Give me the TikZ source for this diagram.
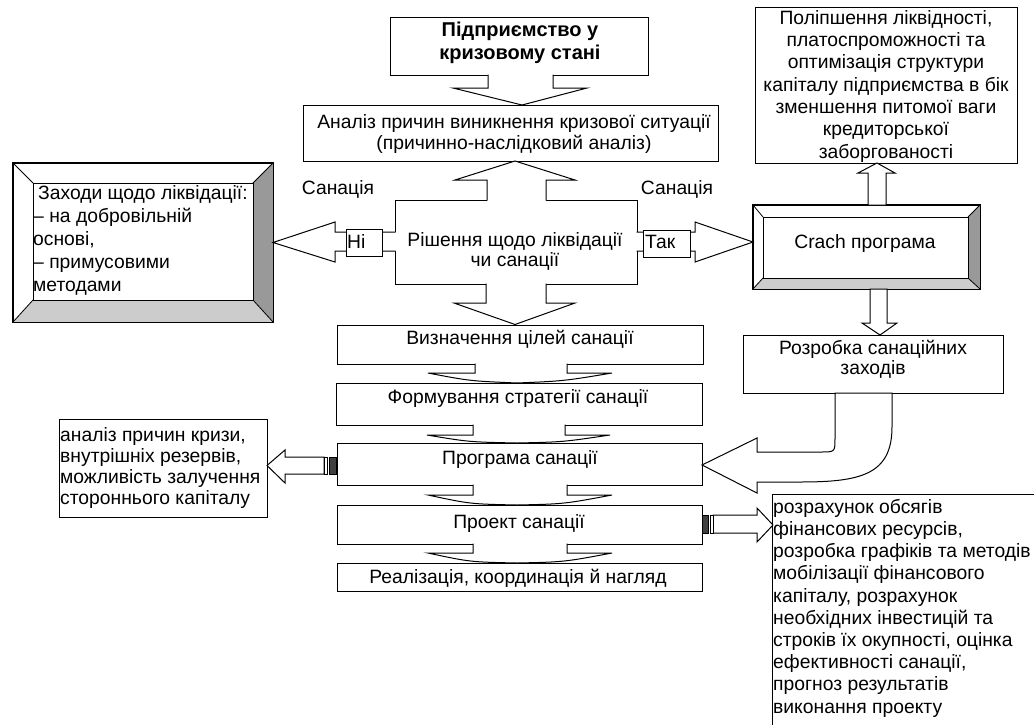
\documentclass[tikz,border=0pt]{standalone}
\usepackage{fontspec}
\setmainfont{Liberation Sans}
\newcommand\myfs[1]{\fontsize{19.3}{#1}\selectfont}
\begin{document}
\begin{tikzpicture}[x=1pt,y=-1pt,
  box/.style={draw, line width=1pt, fill=white, inner sep=0pt},
  ar/.style={line width=1pt, line join=miter},
  mt/.style={inner sep=0pt, anchor=north, align=center},
  ml/.style={inner sep=0pt, anchor=north west, align=left},
  st/.style={inner sep=0pt, anchor=base, font=\myfs{22}},
  sl/.style={inner sep=0pt, anchor=base west, font=\myfs{22}},
  bandR/.style={fill=black!40},
  bandB/.style={fill=black!20},
  bev/.style={line width=0.8pt},
]
\useasboundingbox (0,0) rectangle (1034,724);
\fill[white] (0,0) rectangle (1034,724);

% ---------- boxes ----------
\node[box,minimum width=258,minimum height=58] (crisis) at (519,46) {};
\node[box,minimum width=415,minimum height=56] (cause) at (510.5,133) {};
\node[box,minimum width=242,minimum height=84] (decide) at (516,242) {};
\node[box,minimum width=366,minimum height=39] (goals) at (520,344.5) {};
\node[box,minimum width=366,minimum height=42] (strat) at (519,404) {};
\node[box,minimum width=365,minimum height=42] (prog) at (519.5,464) {};
\node[box,minimum width=365,minimum height=39] (proj) at (519.5,524.5) {};
\node[box,minimum width=365,minimum height=28] (impl) at (519.5,577) {};
\node[box,minimum width=262,minimum height=156] (improve) at (886,85) {};
\node[box,minimum width=260,minimum height=58] (measures) at (873,364) {};
\node[box,minimum width=208,minimum height=98] (analysis) at (163,468) {};
\node[box,minimum width=273,minimum height=241] (calc) at (908.5,614.5) {};
\node[box,minimum width=260,minimum height=159] (liq) at (143,242.5) {};
\node[box,minimum width=227,minimum height=84] (crash) at (866.5,247) {};

% ---------- bevel decoration ----------
\fill[bandR] (273,163)--(273,322)--(253,300)--(253,183)--cycle;
\fill[bandB] (13,322)--(273,322)--(253,300)--(33,300)--cycle;
\draw[line width=1pt] (liq.north west) rectangle (liq.south east);
\draw[bev] (33,183) rectangle (253,300);
\draw[bev] (13,163)--(33,183) (273,163)--(253,183) (13,322)--(33,300) (273,322)--(253,300);

\fill[bandR] (980,205)--(980,289)--(968,278)--(968,217)--cycle;
\fill[bandB] (753,289)--(980,289)--(968,278)--(763,278)--cycle;
\draw[line width=1pt] (crash.north west) rectangle (crash.south east);
\draw[bev] (763,217) rectangle (968,278);
\draw[bev] (753,205)--(763,217) (980,205)--(968,217) (753,289)--(763,278) (980,289)--(968,278);

% ---------- block arrows of the main chain ----------
% crisis -> cause
\fill[white] (488,73)--(488,88)--(453,88)--(522,105)--(587,88)--(553,88)--(553,73)--cycle;
\draw[ar] (488,74.5)--(488,88)--(453,88)--(522,105)--(587,88)--(553,88)--(553,74.5);
% decide -> cause (up)
\fill[white] (487,202)--(487,180)--(455,180)--(515,161)--(575,180)--(546,180)--(546,202)--cycle;
\draw[ar] (487,200.5)--(487,180)--(455,180)--(515,161)--(575,180)--(546,180)--(546,200.5);
% decide -> goals
\fill[white] (486,282)--(486,303)--(454,303)--(515,324.5)--(575,303)--(546,303)--(546,282)--cycle;
\draw[ar] (486,283.5)--(486,303)--(454,303)--(515,324.5)--(575,303)--(546,303)--(546,283.5);
% goals -> strat
\fill[white] (475,362)--(475,373)--(428,373) .. controls (470,381) .. (517,383) .. controls (564,381) .. (612,373)--(567,373)--(567,362)--cycle;
\draw[ar] (475,363.5)--(475,373)--(428,373) .. controls (470,381) .. (517,383) .. controls (564,381) .. (612,373)--(567,373)--(567,363.5);
% strat -> prog
\fill[white] (473,423)--(473,435)--(427,435) .. controls (469,442) .. (517,443) .. controls (563,442) .. (610,435)--(565,435)--(565,423)--cycle;
\draw[ar] (473,424.5)--(473,435)--(427,435) .. controls (469,442) .. (517,443) .. controls (563,442) .. (610,435)--(565,435)--(565,424.5);
% prog -> proj
\fill[white] (473,483)--(473,495)--(428,495) .. controls (470,504) .. (517,505) .. controls (564,504) .. (612,495)--(567,495)--(567,483)--cycle;
\draw[ar] (473,484.5)--(473,495)--(428,495) .. controls (470,504) .. (517,505) .. controls (564,504) .. (612,495)--(567,495)--(567,484.5);
% proj -> impl
\fill[white] (473,542)--(473,553)--(428,553) .. controls (470,562) .. (517,563) .. controls (564,562) .. (612,553)--(567,553)--(567,542)--cycle;
\draw[ar] (473,543.5)--(473,553)--(428,553) .. controls (470,562) .. (517,563) .. controls (564,562) .. (612,553)--(567,553)--(567,543.5);

% ---------- side arrows of the decision ----------
\fill[white] (397,232)--(335,232)--(335,222)--(273,242.5)--(335,262)--(335,251)--(397,251)--cycle;
\draw[ar] (395.5,232)--(335,232)--(335,222)--(273,242.5)--(335,262)--(335,251)--(395.5,251);
\fill[white] (635,232)--(695,232)--(695,222)--(753,242)--(695,262)--(695,251)--(635,251)--cycle;
\draw[ar] (636.5,232)--(695,232)--(695,222)--(753,242)--(695,262)--(695,251)--(636.5,251);
\node[box,minimum width=36,minimum height=27] (no) at (364,242.5) {};
\node[box,minimum width=47,minimum height=27] (yes) at (666.5,243.5) {};

% ---------- right column arrows ----------
\draw[ar, fill=white] (868,205)--(868,173)--(858,173)--(877,163)--(895,173)--(886,173)--(886,205)--cycle;
\draw[ar, fill=white] (870,289)--(870,323)--(862,323)--(880,335)--(897,323)--(887,323)--(887,289)--cycle;
\draw[ar, fill=white] (835,393)--(835,438) .. controls (835,452) .. (821,452)--(757,452)--(757,438)--(702,465)--(757,493)--(757,482)--(800,482) .. controls (860,482) and (892,475) .. (892,427)--(892,393)--cycle;

% ---------- striped arrows ----------
\draw[ar, fill=white] (324,457)--(285,457)--(285,450)--(267,465.5)--(285,483)--(285,474)--(324,474)--cycle;
\draw[line width=0.8pt, fill=white] (324,457) rectangle (327,474);
\draw[line width=0.8pt, fill=black!75] (329,457) rectangle (336.5,474);

\draw[ar, fill=white] (713,515)--(757,515)--(757,508)--(773,525)--(757,542)--(757,533)--(713,533)--cycle;
\draw[line width=0.8pt, fill=white] (710,515) rectangle (713,533);
\draw[line width=0.8pt, fill=black!75] (702.5,515) rectangle (708,533);

% ---------- texts ----------
\node[mt, font=\fontsize{20}{23}\selectfont\bfseries] (tcrisis) at (520,19.9) {\strut Підприємство у\\кризовому стані};
\node[mt, font=\myfs{20}] (tcause) at (514,114) {\strut Аналіз причин виникнення кризової ситуації\\(причинно-наслідковий аналіз)};
\node[mt, font=\myfs{20}] (tdecide) at (515,232) {\strut Рішення щодо ліквідації\\чи санації};
\node[st] (tsanL) at (338,194) {Санація};
\node[st] (tsanR) at (677,194) {Санація};
\node[sl] (tno) at (347,248) {Ні};
\node[sl] (tyes) at (645,248.5) {Так};
\node[ml, font=\myfs{23}] (tliq) at (33,182.9) {\strut\hspace{5pt}Заходи щодо ліквідації:\\– на добровільній\\основі,\\– примусовими\\методами};
\node[mt, font=\myfs{22.3}] (timprove) at (886,8.4) {\strut Поліпшення ліквідності,\\платоспроможності та\\оптимізація структури\\капіталу підприємства в бік\\зменшення питомої ваги\\кредиторської\\заборгованості};
\node[st] (tcrash) at (865,248) {Crach програма};
\node[mt, font=\myfs{20}] (tmeasures) at (873,340) {\strut Розробка санаційних\\заходів};
\node[st] (tgoals) at (520,344) {Визначення цілей санації};
\node[st] (tstrat) at (518,403) {Формування стратегії санації};
\node[st] (tprog) at (520,464) {Програма санації};
\node[st] (tproj) at (519,528) {Проект санації};
\node[st] (timpl) at (518,583) {Реалізація, координація й нагляд};
\node[ml, font=\myfs{21}] (tanalysis) at (60,426.3) {\strut аналіз причин кризи,\\внутрішніх резервів,\\можливість залучення\\стороннього капіталу};
\node[ml, font=\myfs{22.2}] (tcalc) at (773,497.5) {\strut розрахунок обсягів\\фінансових ресурсів,\\розробка графіків та методів\\мобілізації фінансового\\капіталу, розрахунок\\необхідних інвестицій та\\строків їх окупності, оцінка\\ефективності санації,\\прогноз результатів\\виконання проекту};
\end{tikzpicture}
\end{document}
